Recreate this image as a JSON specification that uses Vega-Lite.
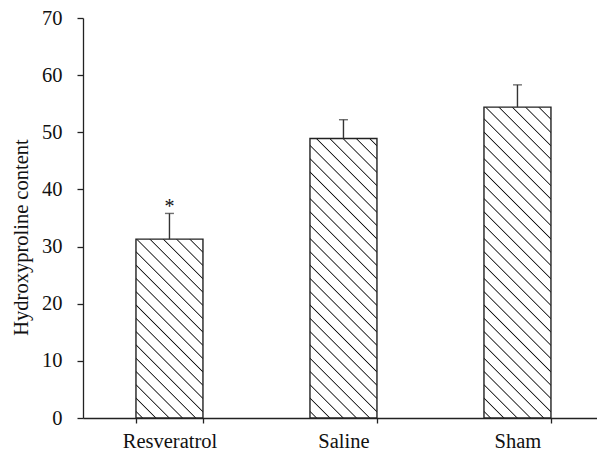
{
  "$schema": "https://vega.github.io/schema/vega-lite/v6.json",
  "autosize": {"type": "none"},
  "padding": {"left": 83, "top": 18, "right": 0, "bottom": 36},
  "width": 514,
  "height": 400,
  "background": "white",
  "config": {
    "view": {"stroke": null},
    "font": "Liberation Serif",
    "axis": {
      "labelFont": "Liberation Serif",
      "titleFont": "Liberation Serif",
      "labelFontSize": 20.5,
      "titleFontSize": 20.5,
      "titleFontWeight": "normal",
      "labelColor": "#111",
      "titleColor": "#111",
      "domainColor": "#222",
      "tickColor": "#222",
      "domainWidth": 1.3,
      "tickWidth": 1.3,
      "grid": false
    }
  },
  "data": {
    "values": [
      {"group": "Resveratrol", "value": 31.3, "upper": 35.8, "sig": "*"},
      {"group": "Saline", "value": 48.9, "upper": 52.2, "sig": ""},
      {"group": "Sham", "value": 54.4, "upper": 58.3, "sig": ""}
    ]
  },
  "encoding": {
    "x": {
      "field": "group",
      "type": "nominal",
      "sort": null,
      "scale": {"paddingInner": 0.615, "paddingOuter": 0.2845, "align": 0.535},
      "axis": {"title": null, "labelAngle": 0, "tickBand": "extent", "tickSize": 5, "labelPadding": 8}
    }
  },
  "layer": [
    {
      "mark": {"type": "bar", "stroke": "#222", "strokeWidth": 1.4},
      "encoding": {
        "y": {
          "field": "value",
          "type": "quantitative",
          "scale": {"domain": [0, 70], "nice": false},
          "axis": {"title": "Hydroxyproline content", "values": [0, 10, 20, 30, 40, 50, 60, 70], "tickSize": 6, "labelPadding": 15, "titlePadding": 10, "titleY": 219}
        },
        "fill": {
          "condition": [
            {"test": "datum.group === 'Resveratrol'", "value": {"gradient": "linear", "x1": 0, "y1": 1, "x2": 0.73283, "y2": -0.95634, "stops": [
              {"offset": 0, "color": "#fff"},
              {"offset": 0.01367, "color": "#fff"}, {"offset": 0.01667, "color": "#111"}, {"offset": 0.01967, "color": "#fff"},
              {"offset": 0.047, "color": "#fff"}, {"offset": 0.05, "color": "#111"}, {"offset": 0.053, "color": "#fff"},
              {"offset": 0.08033, "color": "#fff"}, {"offset": 0.08333, "color": "#111"}, {"offset": 0.08633, "color": "#fff"},
              {"offset": 0.11367, "color": "#fff"}, {"offset": 0.11667, "color": "#111"}, {"offset": 0.11967, "color": "#fff"},
              {"offset": 0.147, "color": "#fff"}, {"offset": 0.15, "color": "#111"}, {"offset": 0.153, "color": "#fff"},
              {"offset": 0.18033, "color": "#fff"}, {"offset": 0.18333, "color": "#111"}, {"offset": 0.18633, "color": "#fff"},
              {"offset": 0.21367, "color": "#fff"}, {"offset": 0.21667, "color": "#111"}, {"offset": 0.21967, "color": "#fff"},
              {"offset": 0.247, "color": "#fff"}, {"offset": 0.25, "color": "#111"}, {"offset": 0.253, "color": "#fff"},
              {"offset": 0.28033, "color": "#fff"}, {"offset": 0.28333, "color": "#111"}, {"offset": 0.28633, "color": "#fff"},
              {"offset": 0.31367, "color": "#fff"}, {"offset": 0.31667, "color": "#111"}, {"offset": 0.31967, "color": "#fff"},
              {"offset": 0.347, "color": "#fff"}, {"offset": 0.35, "color": "#111"}, {"offset": 0.353, "color": "#fff"},
              {"offset": 0.38033, "color": "#fff"}, {"offset": 0.38333, "color": "#111"}, {"offset": 0.38633, "color": "#fff"},
              {"offset": 0.41367, "color": "#fff"}, {"offset": 0.41667, "color": "#111"}, {"offset": 0.41967, "color": "#fff"},
              {"offset": 0.447, "color": "#fff"}, {"offset": 0.45, "color": "#111"}, {"offset": 0.453, "color": "#fff"},
              {"offset": 0.48033, "color": "#fff"}, {"offset": 0.48333, "color": "#111"}, {"offset": 0.48633, "color": "#fff"},
              {"offset": 0.51367, "color": "#fff"}, {"offset": 0.51667, "color": "#111"}, {"offset": 0.51967, "color": "#fff"},
              {"offset": 0.547, "color": "#fff"}, {"offset": 0.55, "color": "#111"}, {"offset": 0.553, "color": "#fff"},
              {"offset": 0.58033, "color": "#fff"}, {"offset": 0.58333, "color": "#111"}, {"offset": 0.58633, "color": "#fff"},
              {"offset": 0.61367, "color": "#fff"}, {"offset": 0.61667, "color": "#111"}, {"offset": 0.61967, "color": "#fff"},
              {"offset": 1, "color": "#fff"}
            ]}},
            {"test": "datum.group === 'Saline'", "value": {"gradient": "linear", "x1": 0, "y1": 1, "x2": 0.32376, "y2": -0.35028, "stops": [
              {"offset": 0, "color": "#fff"},
              {"offset": 0.01367, "color": "#fff"}, {"offset": 0.01667, "color": "#111"}, {"offset": 0.01967, "color": "#fff"},
              {"offset": 0.047, "color": "#fff"}, {"offset": 0.05, "color": "#111"}, {"offset": 0.053, "color": "#fff"},
              {"offset": 0.08033, "color": "#fff"}, {"offset": 0.08333, "color": "#111"}, {"offset": 0.08633, "color": "#fff"},
              {"offset": 0.11367, "color": "#fff"}, {"offset": 0.11667, "color": "#111"}, {"offset": 0.11967, "color": "#fff"},
              {"offset": 0.147, "color": "#fff"}, {"offset": 0.15, "color": "#111"}, {"offset": 0.153, "color": "#fff"},
              {"offset": 0.18033, "color": "#fff"}, {"offset": 0.18333, "color": "#111"}, {"offset": 0.18633, "color": "#fff"},
              {"offset": 0.21367, "color": "#fff"}, {"offset": 0.21667, "color": "#111"}, {"offset": 0.21967, "color": "#fff"},
              {"offset": 0.247, "color": "#fff"}, {"offset": 0.25, "color": "#111"}, {"offset": 0.253, "color": "#fff"},
              {"offset": 0.28033, "color": "#fff"}, {"offset": 0.28333, "color": "#111"}, {"offset": 0.28633, "color": "#fff"},
              {"offset": 0.31367, "color": "#fff"}, {"offset": 0.31667, "color": "#111"}, {"offset": 0.31967, "color": "#fff"},
              {"offset": 0.347, "color": "#fff"}, {"offset": 0.35, "color": "#111"}, {"offset": 0.353, "color": "#fff"},
              {"offset": 0.38033, "color": "#fff"}, {"offset": 0.38333, "color": "#111"}, {"offset": 0.38633, "color": "#fff"},
              {"offset": 0.41367, "color": "#fff"}, {"offset": 0.41667, "color": "#111"}, {"offset": 0.41967, "color": "#fff"},
              {"offset": 0.447, "color": "#fff"}, {"offset": 0.45, "color": "#111"}, {"offset": 0.453, "color": "#fff"},
              {"offset": 0.48033, "color": "#fff"}, {"offset": 0.48333, "color": "#111"}, {"offset": 0.48633, "color": "#fff"},
              {"offset": 0.51367, "color": "#fff"}, {"offset": 0.51667, "color": "#111"}, {"offset": 0.51967, "color": "#fff"},
              {"offset": 0.547, "color": "#fff"}, {"offset": 0.55, "color": "#111"}, {"offset": 0.553, "color": "#fff"},
              {"offset": 0.58033, "color": "#fff"}, {"offset": 0.58333, "color": "#111"}, {"offset": 0.58633, "color": "#fff"},
              {"offset": 0.61367, "color": "#fff"}, {"offset": 0.61667, "color": "#111"}, {"offset": 0.61967, "color": "#fff"},
              {"offset": 0.647, "color": "#fff"}, {"offset": 0.65, "color": "#111"}, {"offset": 0.653, "color": "#fff"},
              {"offset": 0.68033, "color": "#fff"}, {"offset": 0.68333, "color": "#111"}, {"offset": 0.68633, "color": "#fff"},
              {"offset": 0.71367, "color": "#fff"}, {"offset": 0.71667, "color": "#111"}, {"offset": 0.71967, "color": "#fff"},
              {"offset": 0.747, "color": "#fff"}, {"offset": 0.75, "color": "#111"}, {"offset": 0.753, "color": "#fff"},
              {"offset": 0.78033, "color": "#fff"}, {"offset": 0.78333, "color": "#111"}, {"offset": 0.78633, "color": "#fff"},
              {"offset": 0.81367, "color": "#fff"}, {"offset": 0.81667, "color": "#111"}, {"offset": 0.81967, "color": "#fff"},
              {"offset": 0.847, "color": "#fff"}, {"offset": 0.85, "color": "#111"}, {"offset": 0.853, "color": "#fff"},
              {"offset": 1, "color": "#fff"}
            ]}}
          ],
          "value": {"gradient": "linear", "x1": 0, "y1": 1, "x2": 0.26436, "y2": -0.22656, "stops": [
            {"offset": 0, "color": "#fff"},
            {"offset": 0.01367, "color": "#fff"}, {"offset": 0.01667, "color": "#111"}, {"offset": 0.01967, "color": "#fff"},
            {"offset": 0.047, "color": "#fff"}, {"offset": 0.05, "color": "#111"}, {"offset": 0.053, "color": "#fff"},
            {"offset": 0.08033, "color": "#fff"}, {"offset": 0.08333, "color": "#111"}, {"offset": 0.08633, "color": "#fff"},
            {"offset": 0.11367, "color": "#fff"}, {"offset": 0.11667, "color": "#111"}, {"offset": 0.11967, "color": "#fff"},
            {"offset": 0.147, "color": "#fff"}, {"offset": 0.15, "color": "#111"}, {"offset": 0.153, "color": "#fff"},
            {"offset": 0.18033, "color": "#fff"}, {"offset": 0.18333, "color": "#111"}, {"offset": 0.18633, "color": "#fff"},
            {"offset": 0.21367, "color": "#fff"}, {"offset": 0.21667, "color": "#111"}, {"offset": 0.21967, "color": "#fff"},
            {"offset": 0.247, "color": "#fff"}, {"offset": 0.25, "color": "#111"}, {"offset": 0.253, "color": "#fff"},
            {"offset": 0.28033, "color": "#fff"}, {"offset": 0.28333, "color": "#111"}, {"offset": 0.28633, "color": "#fff"},
            {"offset": 0.31367, "color": "#fff"}, {"offset": 0.31667, "color": "#111"}, {"offset": 0.31967, "color": "#fff"},
            {"offset": 0.347, "color": "#fff"}, {"offset": 0.35, "color": "#111"}, {"offset": 0.353, "color": "#fff"},
            {"offset": 0.38033, "color": "#fff"}, {"offset": 0.38333, "color": "#111"}, {"offset": 0.38633, "color": "#fff"},
            {"offset": 0.41367, "color": "#fff"}, {"offset": 0.41667, "color": "#111"}, {"offset": 0.41967, "color": "#fff"},
            {"offset": 0.447, "color": "#fff"}, {"offset": 0.45, "color": "#111"}, {"offset": 0.453, "color": "#fff"},
            {"offset": 0.48033, "color": "#fff"}, {"offset": 0.48333, "color": "#111"}, {"offset": 0.48633, "color": "#fff"},
            {"offset": 0.51367, "color": "#fff"}, {"offset": 0.51667, "color": "#111"}, {"offset": 0.51967, "color": "#fff"},
            {"offset": 0.547, "color": "#fff"}, {"offset": 0.55, "color": "#111"}, {"offset": 0.553, "color": "#fff"},
            {"offset": 0.58033, "color": "#fff"}, {"offset": 0.58333, "color": "#111"}, {"offset": 0.58633, "color": "#fff"},
            {"offset": 0.61367, "color": "#fff"}, {"offset": 0.61667, "color": "#111"}, {"offset": 0.61967, "color": "#fff"},
            {"offset": 0.647, "color": "#fff"}, {"offset": 0.65, "color": "#111"}, {"offset": 0.653, "color": "#fff"},
            {"offset": 0.68033, "color": "#fff"}, {"offset": 0.68333, "color": "#111"}, {"offset": 0.68633, "color": "#fff"},
            {"offset": 0.71367, "color": "#fff"}, {"offset": 0.71667, "color": "#111"}, {"offset": 0.71967, "color": "#fff"},
            {"offset": 0.747, "color": "#fff"}, {"offset": 0.75, "color": "#111"}, {"offset": 0.753, "color": "#fff"},
            {"offset": 0.78033, "color": "#fff"}, {"offset": 0.78333, "color": "#111"}, {"offset": 0.78633, "color": "#fff"},
            {"offset": 0.81367, "color": "#fff"}, {"offset": 0.81667, "color": "#111"}, {"offset": 0.81967, "color": "#fff"},
            {"offset": 0.847, "color": "#fff"}, {"offset": 0.85, "color": "#111"}, {"offset": 0.853, "color": "#fff"},
            {"offset": 0.88033, "color": "#fff"}, {"offset": 0.88333, "color": "#111"}, {"offset": 0.88633, "color": "#fff"},
            {"offset": 0.91367, "color": "#fff"}, {"offset": 0.91667, "color": "#111"}, {"offset": 0.91967, "color": "#fff"},
            {"offset": 0.947, "color": "#fff"}, {"offset": 0.95, "color": "#111"}, {"offset": 0.953, "color": "#fff"},
            {"offset": 1, "color": "#fff"}
          ]}
        }
      }
    },
    {
      "mark": {"type": "rule", "color": "#333", "strokeWidth": 1.4},
      "encoding": {
        "y": {"field": "value", "type": "quantitative"},
        "y2": {"field": "upper"}
      }
    },
    {
      "mark": {"type": "tick", "color": "#333", "size": 9, "thickness": 1.4, "orient": "horizontal"},
      "encoding": {
        "y": {"field": "upper", "type": "quantitative"}
      }
    },
    {
      "mark": {"type": "text", "font": "Liberation Serif", "fontSize": 20, "baseline": "alphabetic", "dy": 0, "color": "#111"},
      "encoding": {
        "y": {"field": "upper", "type": "quantitative"},
        "text": {"field": "sig"}
      }
    }
  ]
}
